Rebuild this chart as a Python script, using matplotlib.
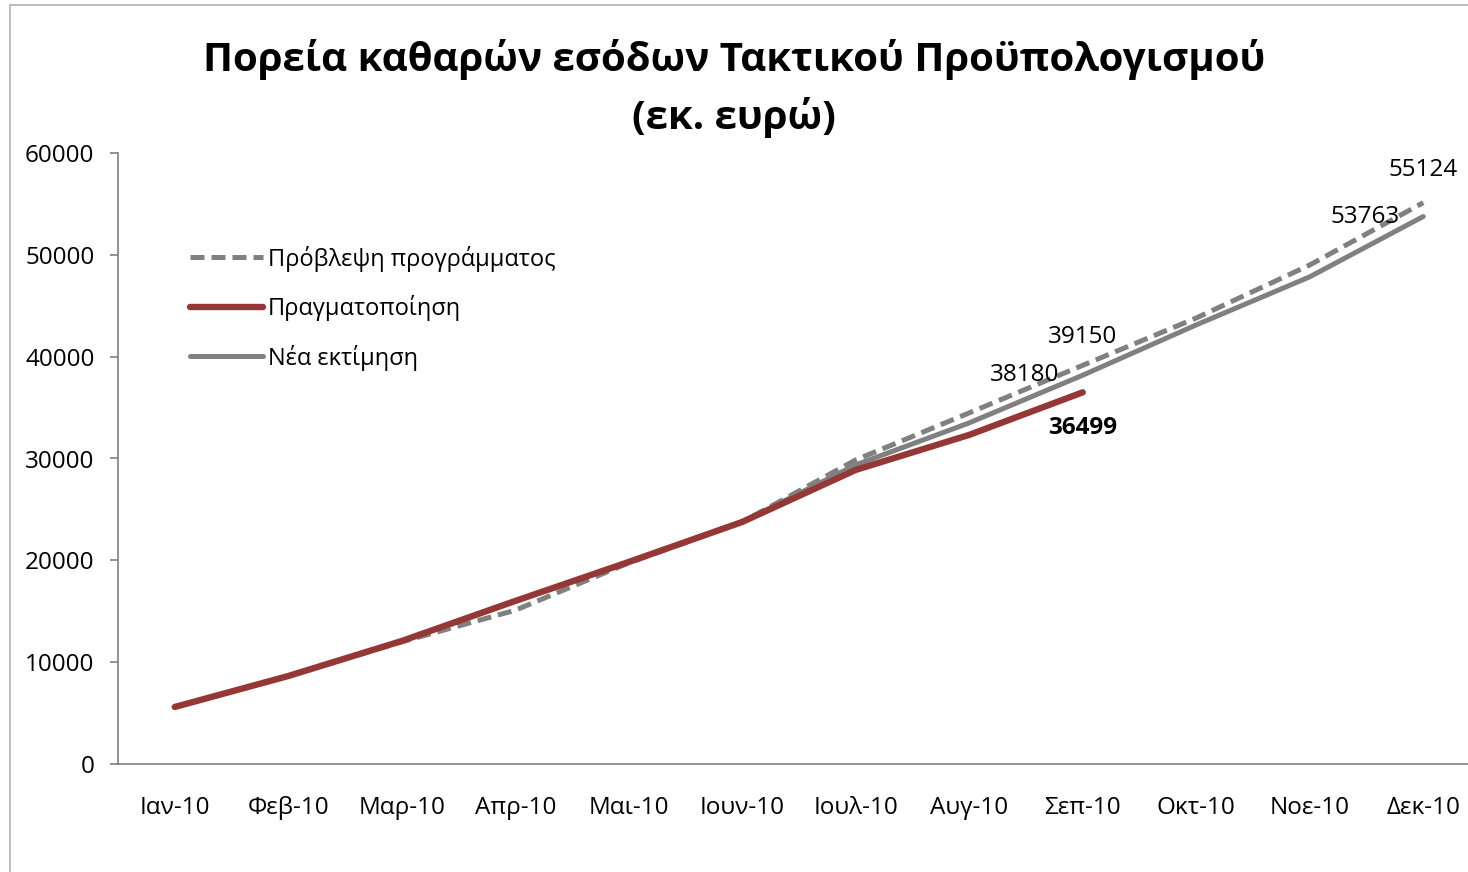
import matplotlib.pyplot as plt
import numpy as np
from matplotlib.patches import Rectangle

plt.rcParams["font.family"] = ["Open Sans", "DejaVu Sans"]

months = ["Ιαν-10", "Φεβ-10", "Μαρ-10", "Απρ-10", "Μαι-10", "Ιουν-10",
          "Ιουλ-10", "Αυγ-10", "Σεπ-10", "Οκτ-10", "Νοε-10", "Δεκ-10"]
forecast = [5600, 8640, 12000, 15100, 19750, 23770, 29860, 34480, 39150,
            43800, 49000, 55124]
actual = [5600, 8640, 12080, 16010, 19840, 23770, 28880, 32320, 36499]
new_estimate = [np.nan, np.nan, np.nan, np.nan, np.nan, 23770, 29370, 33500,
                38180, 43120, 47840, 53763]

red = "#953735"
gray = "#808080"
fs = 17.5

fig = plt.figure(figsize=(14.68, 8.72), dpi=100)
ax = fig.add_axes([118 / 1468, 1 - 764 / 872, (1480 - 118) / 1468, (764 - 153) / 872])
fig.patches.append(Rectangle((10 / 1468, -0.1), 1.2, (872 - 5) / 872 + 0.1,
                             transform=fig.transFigure, fill=False,
                             edgecolor="#b0b0b0", lw=1.2))

x = np.arange(len(months))
ax.plot(x, forecast, color=gray, lw=3.6, ls=(0, (2.8, 1.4)),
        label="Πρόβλεψη προγράμματος", zorder=2)
ax.plot(x[:len(actual)], actual, color=red, lw=4.6, solid_capstyle="round",
        label="Πραγματοποίηση", zorder=3)
ax.plot(x, new_estimate, color=gray, lw=3.6, solid_capstyle="round",
        label="Νέα εκτίμηση", zorder=2.5)

ax.set_xlim(-0.5, 11.5)
ax.set_ylim(0, 60000)
ax.set_yticks(range(0, 60001, 10000))
ax.set_xticks(x)
ax.set_xticklabels(months)
ax.tick_params(axis="x", length=0, pad=23, labelsize=fs)
ax.tick_params(axis="y", length=6, width=1.2, color=gray, pad=11, labelsize=fs)
for s in ["top", "right"]:
    ax.spines[s].set_visible(False)
for s in ["left", "bottom"]:
    ax.spines[s].set_color(gray)
    ax.spines[s].set_linewidth(1.2)

# data labels
lbl = dict(fontsize=fs, color="black")
ax.annotate(f"{forecast[8]}", (8, forecast[8]), xytext=(0, 12),
            textcoords="offset points", ha="center", va="bottom", **lbl)
ax.annotate(f"{new_estimate[8]}", (8, new_estimate[8]), xytext=(-42, 0),
            textcoords="offset points", ha="center", va="center", **lbl)
ax.annotate(f"{actual[8]}", (8, actual[8]), xytext=(0, -26),
            textcoords="offset points", ha="center", va="center",
            fontweight="bold", **lbl)
ax.annotate(f"{forecast[11]}", (11, forecast[11]), xytext=(0, 15),
            textcoords="offset points", ha="center", va="bottom", **lbl)
ax.annotate(f"{new_estimate[11]}", (11, new_estimate[11]), xytext=(-42, 0),
            textcoords="offset points", ha="center", va="center", **lbl)

leg = ax.legend(loc="upper left", bbox_to_anchor=(0.046, 0.864), frameon=False,
                fontsize=17, handlelength=3.1, handletextpad=0.2,
                labelspacing=1.0, borderaxespad=0)

fig.text(0.5, 1 - 60 / 872, "Πορεία καθαρών εσόδων Τακτικού Προϋπολογισμού",
         ha="center", va="center", fontsize=29, fontweight="bold")
fig.text(0.5, 1 - 117 / 872, "(εκ. ευρώ)",
         ha="center", va="center", fontsize=29, fontweight="bold")

fig.savefig("out.png", dpi=100)
